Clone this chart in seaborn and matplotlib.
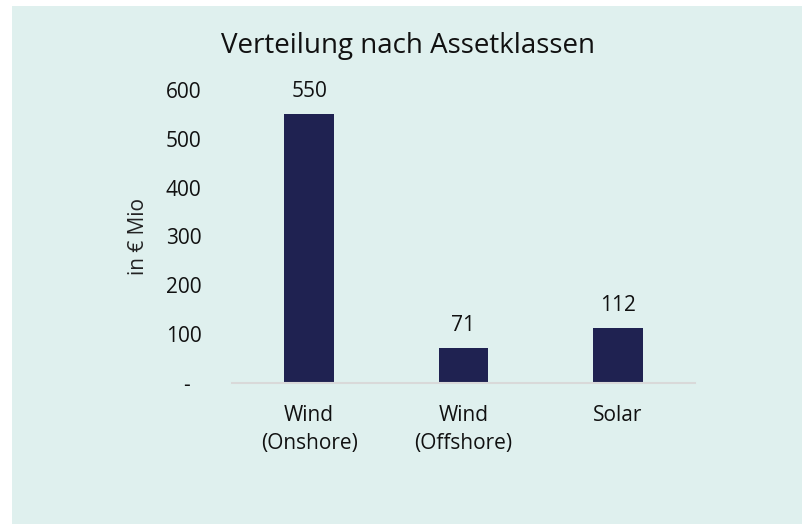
import matplotlib
matplotlib.use("Agg")
import matplotlib.pyplot as plt
import seaborn as sns
import pandas as pd
from matplotlib.patches import Rectangle

categories = ["Wind\n(Onshore)", "Wind\n(Offshore)", "Solar"]
values = [550, 71, 112]
yticks = [0, 100, 200, 300, 400, 500, 600]
ytick_labels = ["-  ", "100", "200", "300", "400", "500", "600"]

bg = "#DFF0EE"
bar_color = "#1F2251"

sns.set_theme(style="white")
plt.rcParams["font.family"] = ["Open Sans", "DejaVu Sans"]

df = pd.DataFrame({"cat": categories, "val": values})

fig = plt.figure(figsize=(8.03, 5.24), dpi=100, facecolor="white")
fig.patches.append(Rectangle((12 / 803, 0), 1, 1 - 6 / 524, transform=fig.transFigure,
                             facecolor=bg, edgecolor="none", zorder=-10))
ax = fig.add_axes([232 / 803, 1 - 383 / 524, 463 / 803, 293 / 524])
ax.set_facecolor("none")
ax.set_zorder(1)

sns.barplot(data=df, x="cat", y="val", color=bar_color, width=0.32, saturation=1,
            linewidth=0, ax=ax)

ax.set_ylim(0, 600)
ax.set_yticks(yticks)
ax.set_yticklabels(ytick_labels)
ax.tick_params(axis="y", length=0, pad=22, labelsize=15, colors="#111111")
ax.tick_params(axis="x", length=0, pad=16, labelsize=15, colors="#111111")
for t in ax.get_xticklabels():
    t.set_linespacing(1.4)
ax.set_xlabel("")
ax.set_ylabel("in € Mio", fontsize=15, color="#222222", labelpad=12)

for s in ["top", "right", "left"]:
    ax.spines[s].set_visible(False)
ax.spines["bottom"].set_color("#D9D9D9")
ax.spines["bottom"].set_linewidth(1.5)

for p, v in zip(ax.patches, values):
    ax.annotate(str(v), (p.get_x() + p.get_width() / 2, p.get_height()),
                xytext=(0, 9), textcoords="offset points",
                ha="center", va="bottom", fontsize=15, color="#111111")

fig.text(408 / 803, 1 - 46 / 524, "Verteilung nach Assetklassen", ha="center", va="center",
         fontsize=20, color="#111111")

fig.savefig("out.png", dpi=100, facecolor=fig.get_facecolor())
